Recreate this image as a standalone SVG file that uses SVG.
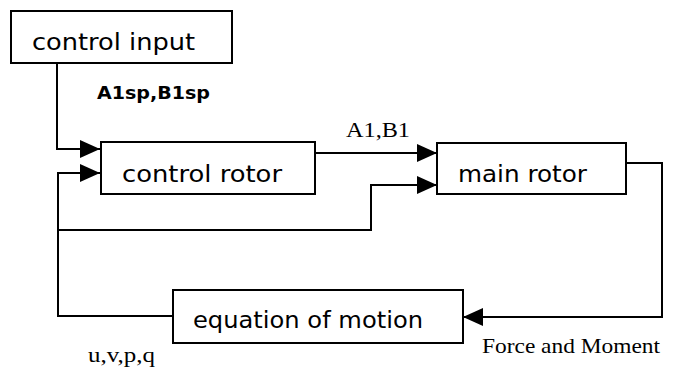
<svg xmlns="http://www.w3.org/2000/svg" width="675" height="367" viewBox="0 0 675 367">
<defs>
<marker id="ah" viewBox="0 0 20 20" refX="20" refY="10" markerWidth="20" markerHeight="20" markerUnits="userSpaceOnUse" orient="auto">
<path d="M0,1 L20,10 L0,19 Z" fill="#000"/>
</marker>
</defs>
<style>
.box{fill:#fff;stroke:#000;stroke-width:2}
.lbl{font-family:"DejaVu Sans",Verdana,sans-serif;font-size:23px;fill:#000}
.sm{font-family:"DejaVu Sans",Verdana,sans-serif;font-size:18px;font-weight:bold;fill:#000}
.ser{font-family:"Liberation Serif","Times New Roman",serif;font-size:21px;fill:#000}
.wire{fill:none;stroke:#000;stroke-width:2}
</style>
<rect width="675" height="367" fill="#fff"/>
<g id="connectors">
<polyline class="wire" points="57,63 57,149 100,149" marker-end="url(#ah)"/>
<polyline class="wire" points="100,173 58,173 58,316 173,316"/>
<polyline class="wire" points="58,230 371,230 371,185 437,185" marker-end="url(#ah)"/>
<polyline class="wire" points="315,153 437,153" marker-end="url(#ah)"/>
<polyline class="wire" points="626,163 662,163 662,317 463,317" marker-end="url(#ah)"/>
<path d="M80,164 L100,173 L80,182 Z" fill="#000"/>
<text class="sm" x="97" y="99" textLength="113" lengthAdjust="spacingAndGlyphs">A1sp,B1sp</text>
<text class="ser" x="346" y="137" textLength="64" lengthAdjust="spacingAndGlyphs">A1,B1</text>
<text class="ser" x="88" y="362" textLength="67" lengthAdjust="spacingAndGlyphs">u,v,p,q</text>
<text class="ser" x="482" y="353" textLength="178" lengthAdjust="spacingAndGlyphs">Force and Moment</text>
</g>
<g id="control-input">
<rect class="box" x="11" y="11" width="221" height="52"/>
<text class="lbl" x="32" y="50" textLength="163" lengthAdjust="spacingAndGlyphs">control input</text>
</g>
<g id="control-rotor">
<rect class="box" x="101" y="142" width="214" height="52"/>
<text class="lbl" x="122" y="182" textLength="160" lengthAdjust="spacingAndGlyphs">control rotor</text>
</g>
<g id="main-rotor">
<rect class="box" x="437" y="143" width="189" height="51"/>
<text class="lbl" x="458" y="182" textLength="129" lengthAdjust="spacingAndGlyphs">main rotor</text>
</g>
<g id="equation-of-motion">
<rect class="box" x="173" y="290" width="290" height="53"/>
<text class="lbl" x="193" y="328" textLength="230" lengthAdjust="spacingAndGlyphs">equation of motion</text>
</g>
</svg>
